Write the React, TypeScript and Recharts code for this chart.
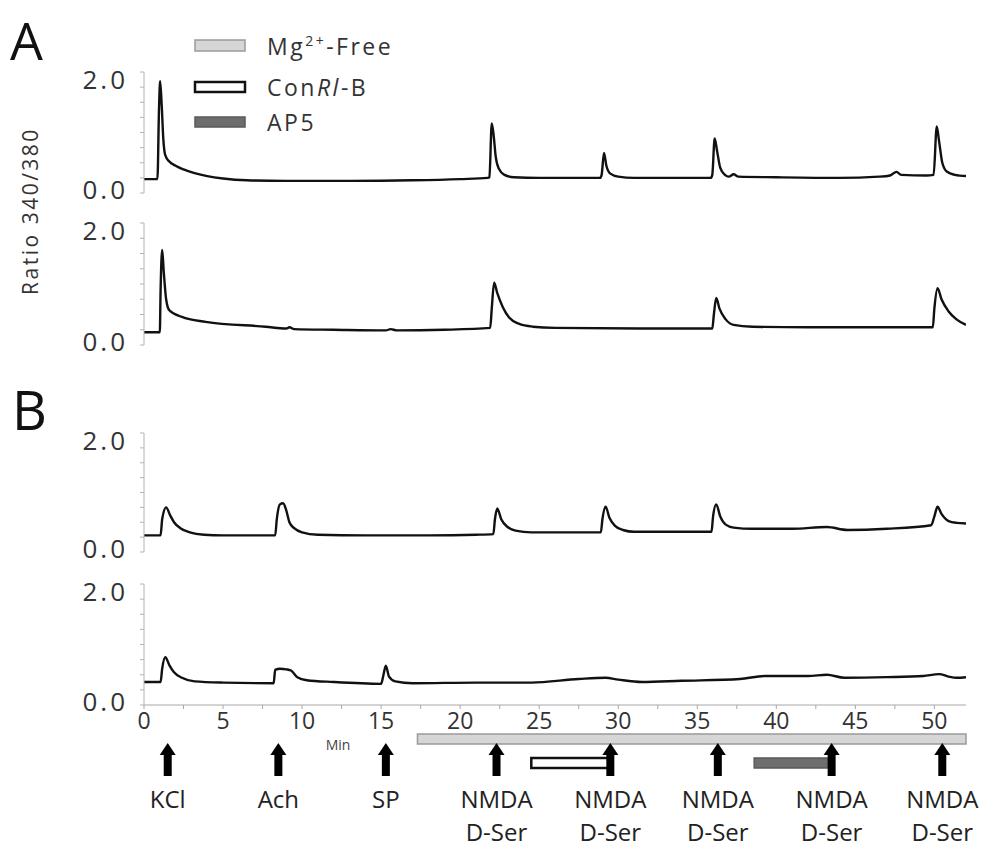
import React from 'react';
import { LineChart, Line, XAxis, YAxis, ReferenceArea, ReferenceDot } from 'recharts';

// [time (min), ratio 340/380]
const traceA1: [number, number][] = [
  [0, 0.23], [0.85, 0.23], [0.95, 1.4], [1.02, 1.85], [1.12, 1.45], [1.22, 0.9], [1.35, 0.62],
  [1.6, 0.52], [2.0, 0.45], [2.5, 0.39], [3.2, 0.33], [4.0, 0.28], [5.0, 0.24], [6.5, 0.21],
  [9, 0.2], [13, 0.2], [17, 0.21], [20, 0.23], [21.75, 0.25], [21.85, 0.26], [22.0, 1.15],
  [22.12, 0.95], [22.25, 0.6], [22.45, 0.4], [22.8, 0.3], [23.4, 0.26], [25, 0.25], [28.85, 0.25],
  [28.95, 0.3], [29.1, 0.66], [29.25, 0.45], [29.5, 0.32], [30, 0.27], [31, 0.25], [35.85, 0.25],
  [35.95, 0.3], [36.1, 0.9], [36.25, 0.7], [36.45, 0.42], [36.75, 0.3], [37.0, 0.27], [37.3, 0.31],
  [37.6, 0.27], [40, 0.26], [44, 0.25], [46.5, 0.27], [47.2, 0.29], [47.6, 0.35], [47.9, 0.3],
  [49.5, 0.29], [49.95, 0.3], [50.15, 1.1], [50.3, 0.85], [50.5, 0.5], [50.8, 0.35], [51.3, 0.3],
  [52, 0.28],
];

const traceA2: [number, number][] = [
  [0, 0.21], [1.0, 0.21], [1.05, 0.9], [1.15, 1.56], [1.25, 1.2], [1.4, 0.75], [1.6, 0.57],
  [2.4, 0.46], [3.9, 0.38], [7.7, 0.3], [9.0, 0.27], [9.2, 0.29], [9.5, 0.26], [12, 0.25],
  [15.3, 0.24], [15.6, 0.26], [16, 0.24], [19, 0.25], [21.9, 0.28], [22.0, 0.6], [22.15, 1.02],
  [22.35, 0.85], [22.7, 0.62], [23.1, 0.45], [23.7, 0.35], [24.6, 0.3], [26, 0.28], [33, 0.27],
  [35.95, 0.27], [36.05, 0.5], [36.2, 0.77], [36.4, 0.6], [36.8, 0.42], [37.3, 0.33], [38.5, 0.3],
  [42, 0.29], [46, 0.29], [49.9, 0.29], [50.0, 0.6], [50.2, 0.93], [50.45, 0.75], [50.9, 0.55],
  [51.4, 0.42], [52, 0.33],
];

const traceB1: [number, number][] = [
  [0, 0.28], [1.05, 0.28], [1.15, 0.55], [1.4, 0.75], [1.65, 0.62], [1.9, 0.5], [2.3, 0.4],
  [2.9, 0.33], [3.8, 0.29], [5, 0.28], [8.3, 0.28], [8.4, 0.55], [8.6, 0.8], [8.8, 0.82],
  [9.0, 0.7], [9.2, 0.5], [9.5, 0.4], [10.0, 0.33], [11, 0.29], [14, 0.28], [18, 0.28], [21, 0.29],
  [22.1, 0.3], [22.2, 0.55], [22.35, 0.73], [22.6, 0.55], [23.0, 0.42], [23.5, 0.36], [24.5, 0.33],
  [28.9, 0.33], [29.0, 0.55], [29.2, 0.76], [29.45, 0.57], [29.8, 0.44], [30.3, 0.37], [31, 0.34],
  [35.9, 0.34], [36.0, 0.6], [36.2, 0.8], [36.45, 0.6], [36.8, 0.46], [37.3, 0.41], [38.5, 0.39],
  [41, 0.39], [43.2, 0.42], [44.5, 0.37], [47, 0.39], [49.8, 0.45], [50.0, 0.6], [50.2, 0.76],
  [50.45, 0.64], [50.9, 0.52], [51.4, 0.49], [52, 0.48],
];

const traceB2: [number, number][] = [
  [0, 0.38], [1.05, 0.38], [1.15, 0.6], [1.35, 0.79], [1.6, 0.66], [1.9, 0.54], [2.4, 0.45],
  [3.2, 0.39], [5, 0.37], [8.2, 0.36], [8.3, 0.58], [8.6, 0.6], [9.0, 0.59], [9.3, 0.57],
  [9.7, 0.46], [10.3, 0.41], [12, 0.38], [15.0, 0.35], [15.15, 0.5], [15.3, 0.65], [15.5, 0.47],
  [15.9, 0.39], [17, 0.36], [21, 0.37], [24.5, 0.37], [27.5, 0.43], [29.2, 0.45], [30, 0.42],
  [31.5, 0.38], [34, 0.4], [37.7, 0.43], [39.3, 0.48], [42, 0.48], [43.2, 0.5], [44.3, 0.45],
  [47, 0.46], [49.3, 0.48], [50.3, 0.51], [50.9, 0.47], [51.4, 0.45], [52, 0.46],
];

const yTicks = [0, 0.25, 0.5, 0.75, 1, 1.25, 1.5, 1.75, 2];
const xTicks = [0, 2.5, 5, 7.5, 10, 12.5, 15, 17.5, 20, 22.5, 25, 27.5, 30, 32.5, 35, 37.5, 40, 42.5, 45, 47.5, 50];

// stimulus arrows (min) and their labels
const stimTimes = [1.5, 8.5, 15.3, 22.3, 29.5, 36.3, 43.5, 50.5];
const stimLabels = [
  ['KCl'], ['Ach'], ['SP'],
  ['NMDA', 'D-Ser'], ['NMDA', 'D-Ser'], ['NMDA', 'D-Ser'], ['NMDA', 'D-Ser'], ['NMDA', 'D-Ser'],
];

// bath applications, start / end (min)
const mgFree = [17.3, 52];
const conRlB = [24.5, 29.5];
const ap5 = [38.6, 43.5];

const FONT = '"Open Sans", sans-serif';
const W = 1002;
const LEFT = 144;
const RIGHT = 36;
const PAD_TOP = 12;
const PAD_BOTTOM = 24;

const YTick = (props: any) => {
  const { x, y, payload } = props;
  const v = payload.value;
  if (v !== 0 && v !== 2) return <g />;
  return (
    <text x={x} y={v === 2 ? y + 8 : y - 3} dy="0.36em" textAnchor="end" fontSize={26}
      letterSpacing={3} fill="#333" fontFamily={FONT}>
      {v.toFixed(1)}
    </text>
  );
};

function Panel({ trace, top, plotH, withX }: { trace: [number, number][]; top: number; plotH: number; withX?: boolean }) {
  const data = trace.map(([t, r]) => ({ t, r }));
  const xAxisH = withX ? 34 : 0;
  return (
    <div style={{ position: 'absolute', left: 0, top: top - PAD_TOP }}>
      <LineChart width={W} height={PAD_TOP + plotH + xAxisH + PAD_BOTTOM} data={data}
        margin={{ top: PAD_TOP, right: RIGHT, bottom: PAD_BOTTOM, left: 0 }}>
        <XAxis dataKey="t" type="number" domain={[0, 52]} ticks={xTicks} interval={0}
          hide={!withX} height={xAxisH} allowDataOverflow
          tickFormatter={(v: number) => (v % 5 === 0 ? String(v) : '')}
          stroke="#a8a8a8" tickSize={4} tickMargin={4}
          tick={{ fontSize: 23, fill: '#333', fontFamily: FONT }} />
        <YAxis type="number" domain={[0, 2]} ticks={yTicks} interval={0} width={LEFT}
          stroke="#b4b4b4" tickSize={4} tickMargin={12} tick={<YTick />} allowDataOverflow />
        <Line dataKey="r" type="monotone" stroke="#111" strokeWidth={2.4} dot={false}
          isAnimationActive={false} />
      </LineChart>
    </div>
  );
}

const Arrow = ({ cx, labels }: { cx: number; labels: string[] }) => (
  <g>
    <polygon points={`${cx},18 ${cx - 8},30 ${cx + 8},30`} fill="#000" />
    <rect x={cx - 4} y={29} width={8} height={22} fill="#000" />
    {labels.map((s, i) => (
      <text key={s} x={cx} y={74 + i * 33} dy="0.36em" textAnchor="middle" fontSize={24}
        fill="#222" fontFamily={FONT}>{s}</text>
    ))}
  </g>
);

function Stimuli() {
  const data = stimTimes.map((t) => ({ t, v: 0 }));
  const bar = (y: number, fill: string, stroke: string, sw: number) => (p: any) => (
    <rect x={p.x} y={y} width={p.width} height={10} fill={fill} stroke={stroke} strokeWidth={sw} />
  );
  return (
    <div style={{ position: 'absolute', left: 0, top: 725 }}>
      <LineChart width={W} height={123} data={data} margin={{ top: 0, right: RIGHT, bottom: 0, left: LEFT }}>
        <XAxis dataKey="t" type="number" domain={[0, 52]} hide />
        <YAxis type="number" domain={[0, 1]} hide />
        <ReferenceArea x1={mgFree[0]} x2={mgFree[1]} ifOverflow="visible" shape={bar(9, '#d6d6d6', '#9a9a9a', 1.5)} />
        <ReferenceArea x1={conRlB[0]} x2={conRlB[1]} ifOverflow="visible" shape={bar(33, '#fff', '#111', 2.5)} />
        <ReferenceArea x1={ap5[0]} x2={ap5[1]} ifOverflow="visible" shape={bar(33, '#6e6e6e', '#5a5a5a', 1.5)} />
        {stimTimes.map((t, i) => (
          <ReferenceDot key={i} x={t} y={1} ifOverflow="visible"
            shape={(p: any) => <Arrow cx={p.cx} labels={stimLabels[i]} />} />
        ))}
        <Line dataKey="v" stroke="none" dot={false} isAnimationActive={false} />
      </LineChart>
    </div>
  );
}

export default function App() {
  return (
    <div style={{ position: 'absolute', left: 0, top: 0, width: W, height: 848, background: '#fff', overflow: 'hidden' }}>
      <svg width={W} height={848} style={{ position: 'absolute', left: 0, top: 0 }} fontFamily={FONT}>
        <text x={10} y={60} fontSize={52} fill="#111">A</text>
        <text x={12} y={430} fontSize={54} fill="#111">B</text>
        <text transform="translate(38,211) rotate(-90)" textAnchor="middle" fontSize={21}
          letterSpacing={2.5} fill="#333">Ratio 340/380</text>
        <text x={338} y={750} textAnchor="middle" fontSize={14} fill="#444">Min</text>
        {/* legend */}
        <rect x={195} y={40} width={50} height={11} fill="#d6d6d6" stroke="#9a9a9a" strokeWidth={1.5} />
        <rect x={195} y={82} width={50} height={10} fill="#fff" stroke="#111" strokeWidth={2.5} />
        <rect x={195} y={117} width={50} height={10} fill="#6e6e6e" stroke="#5a5a5a" strokeWidth={1.5} />
        <text x={267} y={55} fontSize={23} letterSpacing={2.5} fill="#333">
          Mg<tspan fontSize={14} dy={-9}>2+</tspan><tspan dy={9}>-Free</tspan>
        </text>
        <text x={267} y={96} fontSize={23} letterSpacing={2.5} fill="#333">
          Con<tspan fontStyle="italic">Rl</tspan>-B
        </text>
        <text x={267} y={131} fontSize={23} letterSpacing={2.5} fill="#333">AP5</text>
      </svg>
      <Panel trace={traceA1} top={72} plotH={121} />
      <Panel trace={traceA2} top={223} plotH={122} />
      <Panel trace={traceB1} top={433} plotH={119} />
      <Panel trace={traceB2} top={584} plotH={121} withX />
      <Stimuli />
    </div>
  );
}
